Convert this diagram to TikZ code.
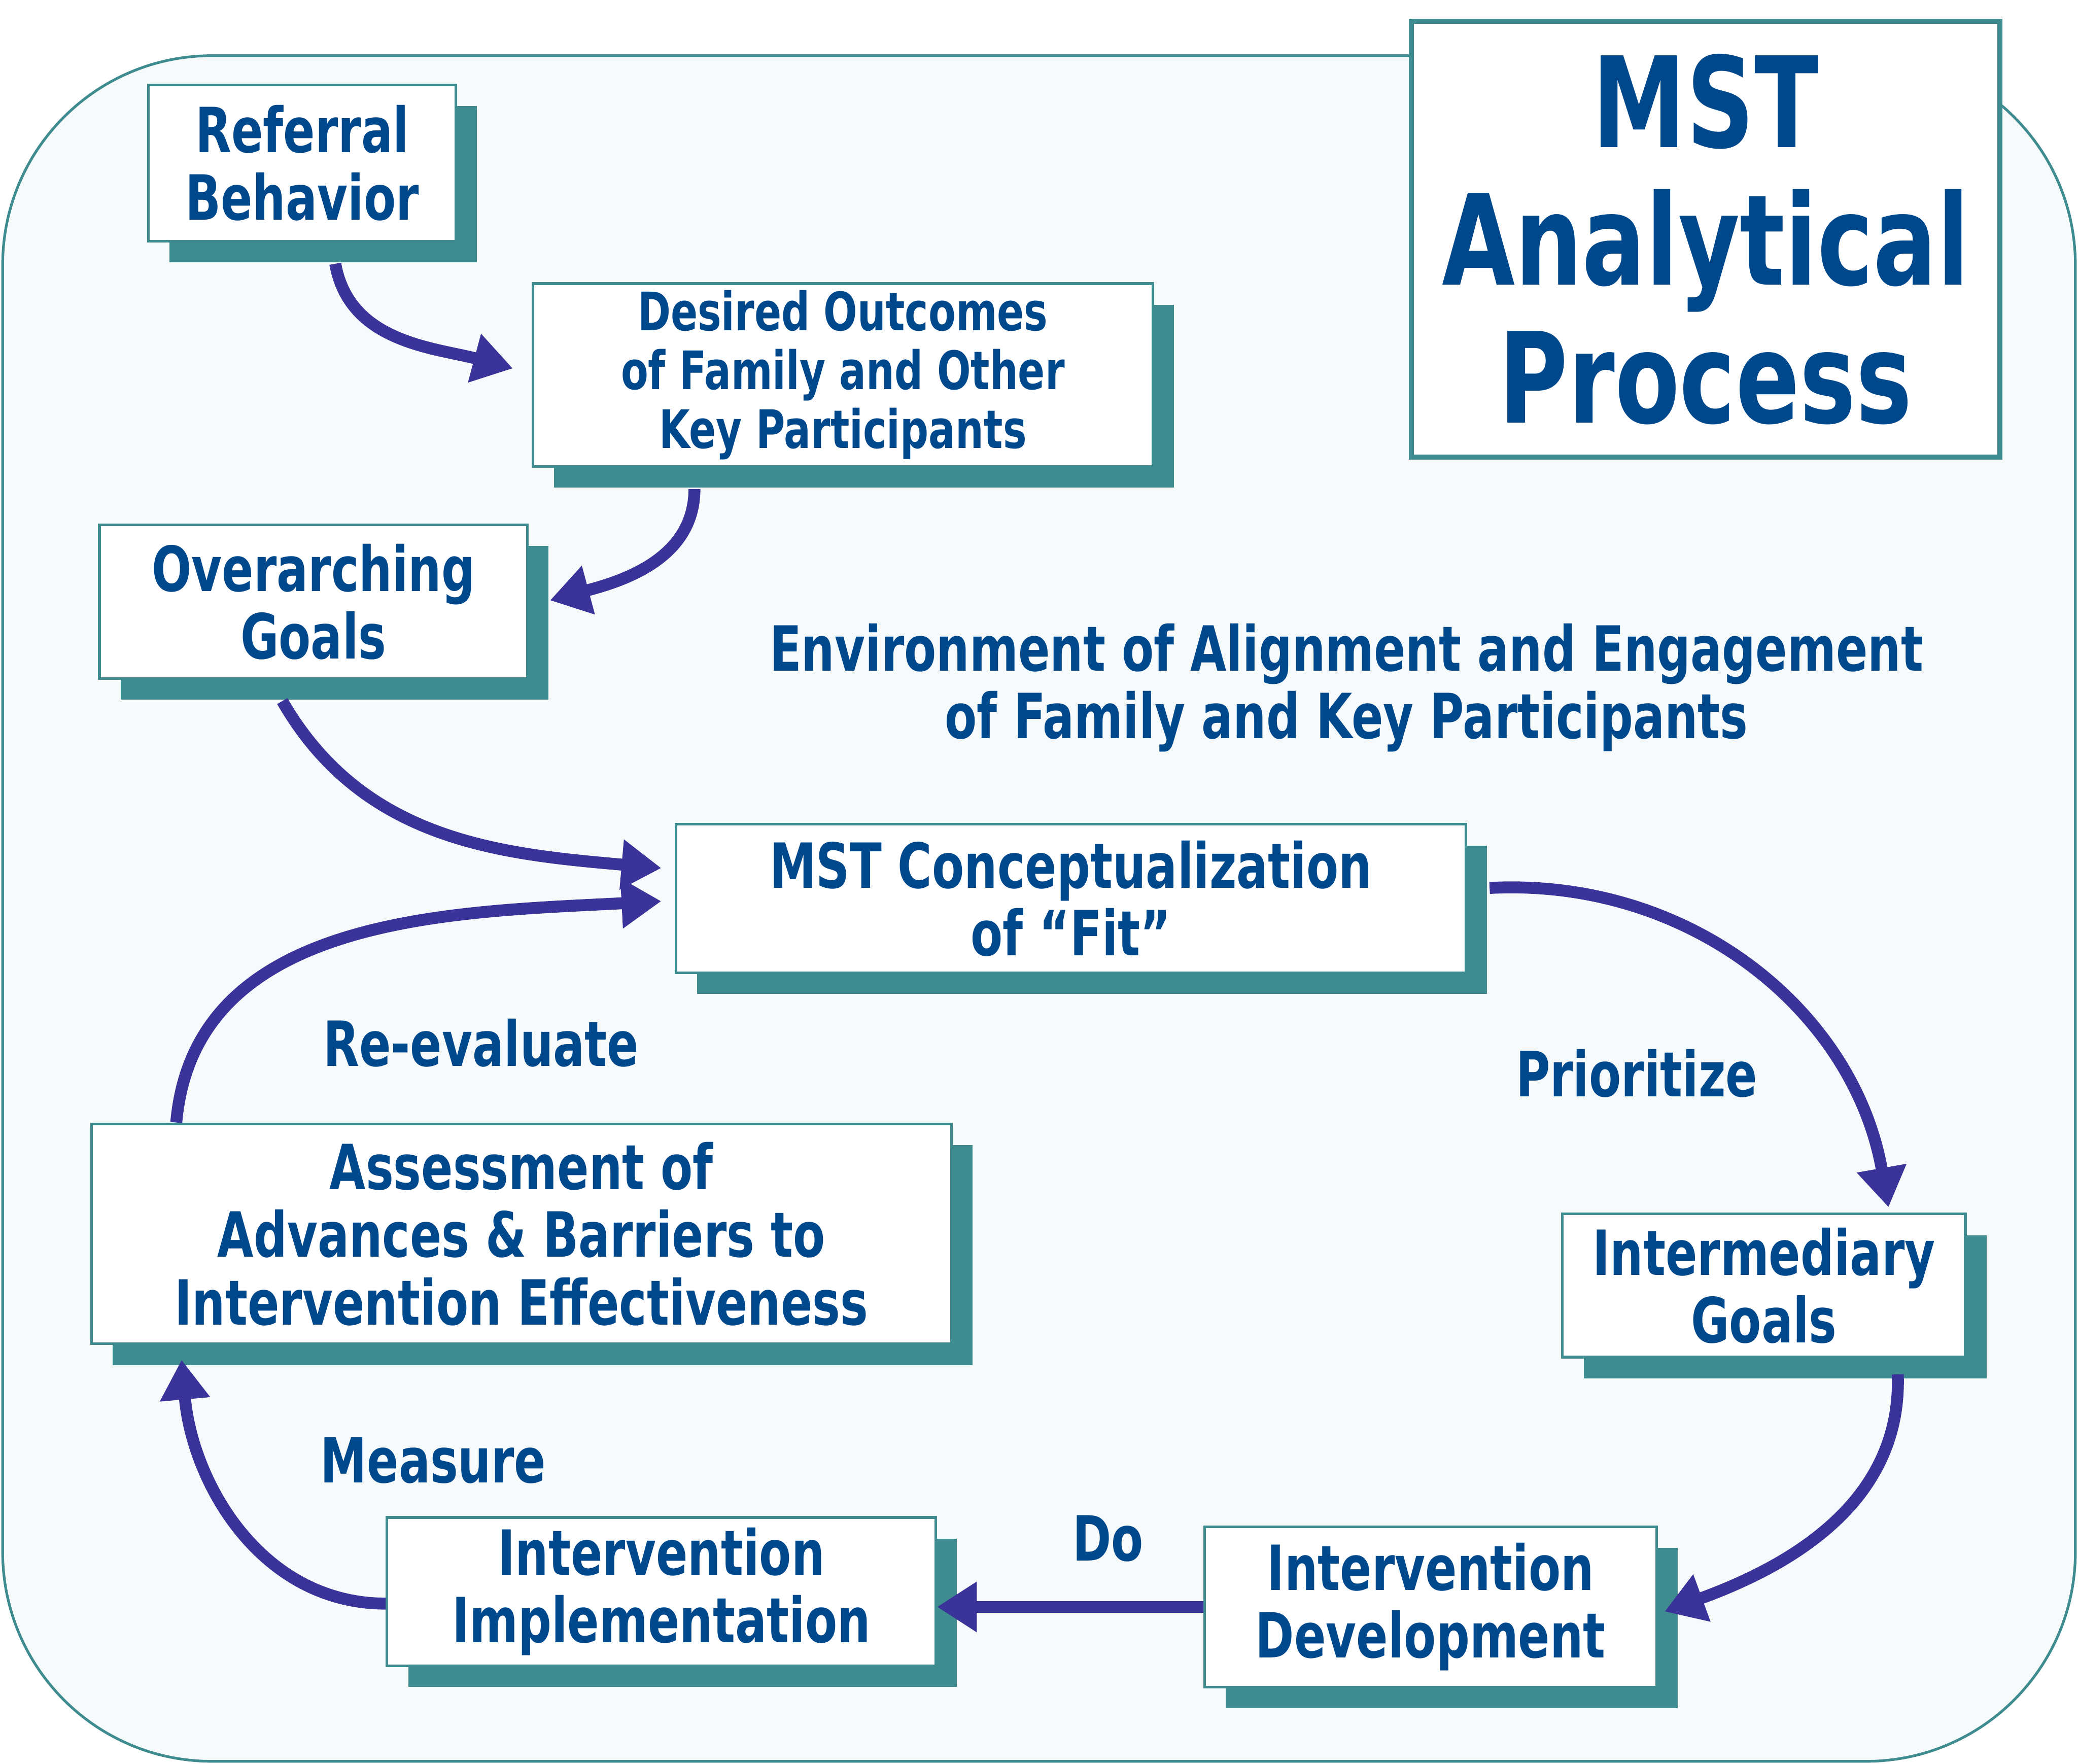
\documentclass[tikz,border=0pt]{standalone}
\usepackage{fontspec}
\setmainfont{DejaVu Sans}[FakeStretch=0.75]
\usepackage{tikz}
\usetikzlibrary{arrows.meta,positioning,shadows}
\definecolor{teal2}{HTML}{3E8C90}
\definecolor{blue2}{HTML}{00488C}
\definecolor{indigo2}{HTML}{3A3399}
\definecolor{paper2}{HTML}{F6FAFB}

\begin{document}
\begin{tikzpicture}[x=1pt,y=1pt,
        box/.style={draw=teal2,line width=2pt,fill=white,text=blue2,align=center,inner sep=0pt,
                    drop shadow={shadow xshift=16pt,shadow yshift=-16pt,fill=teal2,opacity=1},
                    font=\fontsize{47}{51}\selectfont\bfseries},
        lbl/.style={text=blue2,align=center,font=\fontsize{47}{51}\selectfont\bfseries},
        arr/.style={-{Triangle[length=30pt,width=36pt]},line width=9pt,indigo2}
    ]
      \useasboundingbox (0,0) rectangle (1568,-1331);
      \draw[teal2,line width=2pt,fill=paper2,rounded corners=158pt] (2,-42) rectangle (1566,-1329);

      \node[draw=teal2,line width=4pt,fill=white,text=blue2,align=center,
            minimum width=444pt,minimum height=329pt,
            font=\fontsize{95}{104}\selectfont\bfseries] (title) at (1287,-180.5) {MST\\Analytical\\Process};

      \node[box,minimum width=232pt,minimum height=118pt] (ref) at (228,-123) {Referral\\Behavior};
      \node[box,minimum width=468pt,minimum height=138pt,font=\fontsize{40}{44.5}\selectfont\bfseries]
            (outcomes) at (636,-283) {Desired Outcomes\\of Family and Other\\Key Participants};
      \node[box,minimum width=323pt,minimum height=116pt] (goals) at (236.5,-454) {Overarching\\Goals};
      \node[box,minimum width=596pt,minimum height=112pt] (fit) at (808,-678) {MST Conceptualization\\of “Fit”};
      \node[box,minimum width=304pt,minimum height=108pt] (midgoals) at (1331,-970) {Intermediary\\Goals};
      \node[box,minimum width=649pt,minimum height=166pt] (assess) at (393.5,-931)
            {Assessment of\\Advances \& Barriers to\\Intervention Effectiveness};
      \node[box,minimum width=414pt,minimum height=112pt] (impl) at (499,-1201) {Intervention\\Implementation};
      \node[box,minimum width=341pt,minimum height=121pt] (devel) at (1079.5,-1212.5) {Intervention\\Development};

      \node[lbl] (envlbl) at (1016,-519) {Environment of Alignment and Engagement\\of Family and Key Participants};
      \node[lbl] (reeval) at (363,-787) {Re-evaluate};
      \node[lbl] (prior) at (1235,-810) {Prioritize};
      \node[lbl] (measure) at (327,-1102) {Measure};
      \node[lbl] (dolbl) at (836,-1161) {Do};

      \draw[arr] ([xshift=25pt,yshift=-16pt]ref.south) to[out=-80,in=165] ([xshift=-14pt,yshift=5pt]outcomes.west);
      \draw[arr] ([xshift=-112pt,yshift=-16pt]outcomes.south) to[out=-90,in=15] ([xshift=16pt,yshift=1pt]goals.east);
      \draw[arr] ([xshift=-23.5pt,yshift=-16pt]goals.south) to[out=-60,in=175] ([xshift=-10pt,yshift=23pt]fit.west);
      \draw[arr] ([xshift=-260.5pt]assess.north) to[out=85,in=183] ([xshift=-10pt,yshift=-2pt]fit.west);
      \draw[arr] ([xshift=17pt,yshift=8pt]fit.east) to[out=3,in=100] ([xshift=94pt,yshift=4pt]midgoals.north);
      \draw[arr] ([xshift=101pt,yshift=-12pt]midgoals.south) to[out=-88,in=20] ([xshift=5pt,yshift=-3.5pt]devel.east);
      \draw[arr] (devel.west) -- (devel.west -| impl.east);
      \draw[arr] ([yshift=-9pt]impl.west) to[out=180,in=-85] ([xshift=-256.5pt,yshift=-11pt]assess.south);
    \end{tikzpicture}
\end{document}
